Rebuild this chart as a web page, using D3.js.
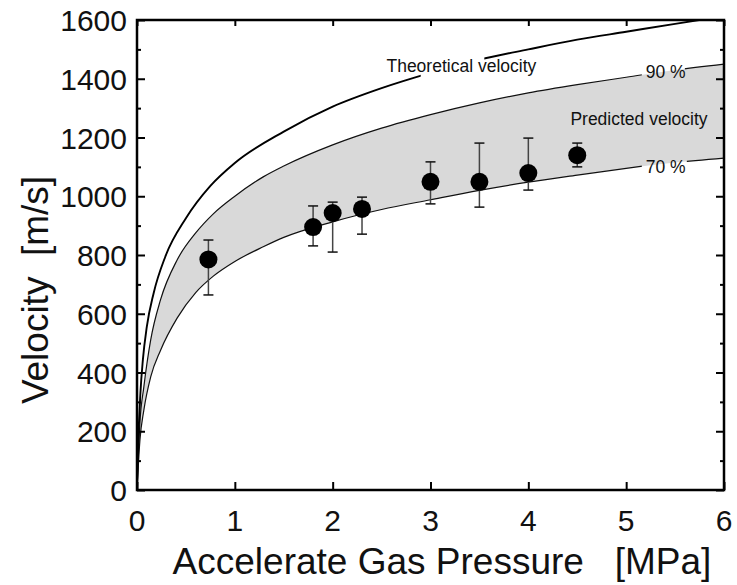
<!DOCTYPE html>
<html>
<head>
<meta charset="utf-8">
<script src="https://cdn.jsdelivr.net/npm/d3@7"></script>
<style>
  body { margin: 0; background: #fff; }
  text { font-family: Arial, "Liberation Sans", sans-serif; fill: #111; }
</style>
</head>
<body>
<svg id="chart" width="737" height="585"></svg>
<script>
// measured points
const pressure = [0.73, 1.8, 2.0, 2.3, 3.0, 3.5, 4.0, 4.5];
const velocity = [785, 895, 943, 957, 1049, 1049, 1079, 1140];
const errTop = [851, 967, 980, 997, 1117, 1181, 1198, 1181];
const errBottom = [664, 831, 810, 871, 974, 963, 1021, 1100];

// theoretical curve
const theoP = [0, 0.007, 0.035, 0.06, 0.1, 0.17, 0.29, 0.5, 0.75, 1.0, 1.5, 2.0, 2.5, 3.0, 3.5, 4.0, 4.5, 5.0, 5.5, 5.75];
const theoV = [0, 100, 330, 443, 555, 670, 795, 925, 1035, 1113, 1220, 1305, 1368, 1420, 1465, 1500, 1533, 1560, 1587, 1600];

// predicted band, 90 % and 70 %
const bandP = [0, 0.03, 0.07, 0.14, 0.24, 0.41, 0.6, 0.78, 1.0, 1.29, 1.5, 2.0, 2.5, 3.0, 3.5, 4.0, 4.5, 5.0, 5.5, 6.0];
const band90 = [0, 230, 351, 511, 647, 783, 875, 940, 1000, 1066, 1103, 1175, 1232, 1278, 1318, 1352, 1380, 1405, 1430, 1450];
const band70 = [0, 170, 272, 385, 475, 585, 672, 728, 778, 828, 860, 913, 955, 988, 1020, 1048, 1072, 1095, 1115, 1130];

const xTicks = [0, 1, 2, 3, 4, 5, 6];
const yTicks = [0, 200, 400, 600, 800, 1000, 1200, 1400, 1600];
const yMinorTicks = [100, 300, 500, 700, 900, 1100, 1300, 1500];

const width = 737;
const height = 585;
const margin = { top: 20, right: 13, bottom: 95, left: 137 };
const w = width - margin.left - margin.right;
const h = height - margin.top - margin.bottom;

const svg = d3.select('#chart');
const g = svg.append('g').attr('transform', `translate(${margin.left},${margin.top})`);

const x = d3.scaleLinear().domain([0, 6]).range([0, w]);
const y = d3.scaleLinear().domain([0, 1600]).range([h, 0]);

const defs = svg.append('defs');
defs.append('clipPath').attr('id', 'plot')
  .append('rect').attr('width', w).attr('height', h);

// clip that leaves a gap in a line where its label sits
const gapClip = (id, p0, p1) => {
  const cp = defs.append('clipPath').attr('id', id);
  cp.append('rect').attr('x', 0).attr('y', 0).attr('width', x(p0)).attr('height', h);
  cp.append('rect').attr('x', x(p1)).attr('y', 0).attr('width', w - x(p1)).attr('height', h);
};
gapClip('gapTheo', 2.9, 3.55);
gapClip('gap90', 5.16, 5.6);
gapClip('gap70', 5.16, 5.62);

const plot = g.append('g').attr('clip-path', 'url(#plot)');

const bandData = bandP.map((p, i) => ({ p, hi: band90[i], lo: band70[i] }));

plot.append('path')
  .datum(bandData)
  .attr('fill', '#d9d9d9')
  .attr('d', d3.area()
    .x(d => x(d.p))
    .y0(d => y(d.lo))
    .y1(d => y(d.hi))
    .curve(d3.curveMonotoneX));

const lineGen = d3.line().x(d => x(d[0])).y(d => y(d[1])).curve(d3.curveMonotoneX);

plot.append('g').attr('clip-path', 'url(#gap90)')
  .append('path')
  .datum(bandP.map((p, i) => [p, band90[i]]))
  .attr('fill', 'none').attr('stroke', '#111').attr('stroke-width', 1.2)
  .attr('d', lineGen);

plot.append('g').attr('clip-path', 'url(#gap70)')
  .append('path')
  .datum(bandP.map((p, i) => [p, band70[i]]))
  .attr('fill', 'none').attr('stroke', '#111').attr('stroke-width', 1.2)
  .attr('d', lineGen);

plot.append('g').attr('clip-path', 'url(#gapTheo)')
  .append('path')
  .datum(theoP.map((p, i) => [p, theoV[i]]))
  .attr('fill', 'none').attr('stroke', '#000').attr('stroke-width', 1.9)
  .attr('d', lineGen);

// error bars
const pts = pressure.map((p, i) => ({ p, v: velocity[i], top: errTop[i], bot: errBottom[i] }));
const bars = g.append('g');
bars.selectAll('line.stem').data(pts).enter().append('line')
  .attr('x1', d => x(d.p)).attr('x2', d => x(d.p))
  .attr('y1', d => y(d.top)).attr('y2', d => y(d.bot))
  .attr('stroke', '#444').attr('stroke-width', 1.5);
['top', 'bot'].forEach(k => {
  bars.selectAll(`line.cap-${k}`).data(pts).enter().append('line')
    .attr('x1', d => x(d.p) - 5).attr('x2', d => x(d.p) + 5)
    .attr('y1', d => y(d[k])).attr('y2', d => y(d[k]))
    .attr('stroke', '#111').attr('stroke-width', 1.5);
});

g.append('g').selectAll('circle').data(pts).enter().append('circle')
  .attr('cx', d => x(d.p)).attr('cy', d => y(d.v)).attr('r', 9)
  .attr('fill', '#000');

// curve labels
const label = (text, p, v) => g.append('text')
  .attr('x', x(p)).attr('y', y(v))
  .style('font-size', '17.5px')
  .text(text);
label('Theoretical velocity', 2.55, 1423);
label('90 %', 5.2, 1402);
label('70 %', 5.2, 1079);
label('Predicted velocity', 4.43, 1242);

// axes: ticks point inward on all four sides
const tick = (sel, vals, size) => sel.tickValues(vals).tickSize(size).tickFormat('');
g.append('g').attr('transform', `translate(0,${h})`).call(tick(d3.axisTop(x), xTicks, 8));
g.append('g').call(tick(d3.axisBottom(x), xTicks, 6));
g.append('g').call(tick(d3.axisRight(y), yTicks, 8));
g.append('g').call(tick(d3.axisRight(y), yMinorTicks, 4));
g.append('g').attr('transform', `translate(${w},0)`).call(tick(d3.axisLeft(y), yTicks, 8));
g.append('g').attr('transform', `translate(${w},0)`).call(tick(d3.axisLeft(y), yMinorTicks, 4));
g.selectAll('.domain').remove();
g.selectAll('.tick line').attr('stroke', '#000').attr('stroke-width', 2);

g.append('rect')
  .attr('width', w).attr('height', h)
  .attr('fill', 'none').attr('stroke', '#000').attr('stroke-width', 2.5);

// tick labels
g.append('g').selectAll('text').data(xTicks).enter().append('text')
  .attr('x', d => x(d)).attr('y', h + 41)
  .attr('text-anchor', 'middle')
  .style('font-size', '30px')
  .text(d => d);
g.append('g').selectAll('text').data(yTicks).enter().append('text')
  .attr('x', -10).attr('y', d => y(d) + 11)
  .attr('text-anchor', 'end')
  .style('font-size', '30px')
  .text(d => d);

// axis titles
svg.append('text')
  .attr('x', 442).attr('y', 574)
  .attr('text-anchor', 'middle')
  .style('font-size', '37px')
  .attr('xml:space', 'preserve')
  .text('Accelerate Gas Pressure   [MPa]');
svg.append('text')
  .attr('transform', 'translate(48,290) rotate(-90)')
  .attr('text-anchor', 'middle')
  .style('font-size', '37px')
  .attr('xml:space', 'preserve')
  .text('Velocity  [m/s]');
</script>
</body>
</html>
